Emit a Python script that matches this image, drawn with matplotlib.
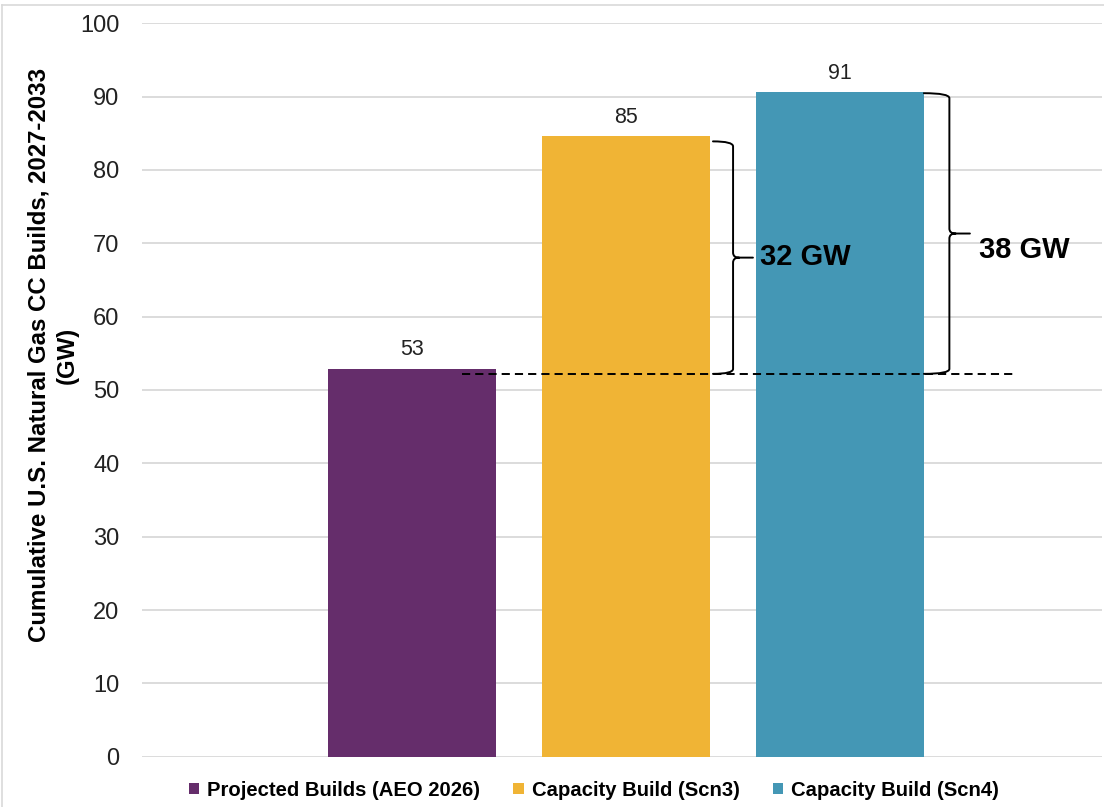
import matplotlib
matplotlib.use("Agg")
import matplotlib.pyplot as plt
from matplotlib import font_manager
from matplotlib.path import Path
from matplotlib.patches import PathPatch, Patch
from matplotlib.lines import Line2D

# ---- data ----
categories = ["Projected Builds (AEO 2026)", "Capacity Build (Scn3)", "Capacity Build (Scn4)"]
values = [52.9, 84.6, 90.6]
colors = ["#652D6B", "#F0B435", "#4497B5"]
baseline = 52.2          # dashed reference level
yticks = [0, 10, 20, 30, 40, 50, 60, 70, 80, 90, 100]
ylabel = "Cumulative U.S. Natural Gas CC Builds, 2027-2033\n(GW)"

names = {f.name for f in font_manager.fontManager.ttflist}
base_font = "Liberation Sans" if "Liberation Sans" in names else "DejaVu Sans"
narrow_font = "Liberation Sans Narrow" if "Liberation Sans Narrow" in names else base_font
plt.rcParams["font.family"] = [base_font, "DejaVu Sans"]

W, H = 1104, 807
fig = plt.figure(figsize=(W / 100, H / 100), dpi=100)
ax = fig.add_axes([141.7 / W, 1 - 756.7 / H, (1102 - 141.7) / W, (756.7 - 23.3) / H])

x = list(range(len(values)))
bw = 168 / 213.75
bars = ax.bar(x, values, width=bw, color=colors, zorder=3)

ax.set_ylim(0, 100)
ax.set_xlim(-1.2646, 3.228)
ax.set_yticks(yticks)
ax.set_xticks([])
ax.tick_params(axis="y", length=0, pad=16, labelsize=17, labelcolor="#222222")
for s in ax.spines.values():
    s.set_visible(False)
ax.grid(axis="y", color="#d9d9d9", linewidth=1.3, zorder=0)
ax.set_axisbelow(True)

# value labels
for xi, v in zip(x, values):
    ax.annotate(f"{v:.0f}", (xi, v), xytext=(0, 6), textcoords="offset points",
                ha="center", va="bottom", fontsize=15.5, color="#222222")

# dashed baseline
ax.plot([0.234, 2.81], [baseline, baseline], color="black", lw=1.4,
        dashes=(4.2, 2.6), zorder=4)

# braces
def brace(x0, x1, x2, yt, yb):
    ym = (yt + yb) / 2
    ry = 5 / 7.333
    dx = (x2 - x1) * 0.3
    verts = [(x0, yt), (x1, yt), (x1, yt - ry),
             (x1, ym + ry), (x1, ym), (x1 + dx, ym), (x2, ym),
             (x1 + dx, ym), (x1, ym), (x1, ym - ry),
             (x1, yb + ry), (x1, yb), (x0, yb)]
    codes = [Path.MOVETO, Path.CURVE3, Path.CURVE3,
             Path.LINETO, Path.CURVE3, Path.CURVE3, Path.LINETO,
             Path.MOVETO, Path.CURVE3, Path.CURVE3,
             Path.LINETO, Path.CURVE3, Path.CURVE3]
    ax.add_patch(PathPatch(Path(verts, codes), fill=False, lw=1.4,
                           edgecolor="black", zorder=5, capstyle="round"))
    return ym

brace(1.408, 1.502, 1.595, 83.9, baseline)
brace(2.395, 2.514, 2.61, 90.47, baseline)
ax.text(1.628, 68.2, f"{values[1] - baseline:.0f} GW", fontsize=21, fontweight="bold",
        ha="left", va="center", zorder=6)
ax.text(2.653, 69.1, f"{values[2] - baseline:.0f} GW", fontsize=21, fontweight="bold",
        ha="left", va="center", zorder=6)

# y label
fig.text(53 / W, 1 - 355 / H, ylabel, rotation=90, ha="center", va="center",
         multialignment="center", fontsize=17.3, fontweight="bold",
         family=[narrow_font, "DejaVu Sans"], linespacing=1.3)

# legend
handles = [Patch(facecolor=c, edgecolor="none") for c in colors]
fig.legend(handles, categories, loc="center", bbox_to_anchor=(594 / W, 1 - 790 / H),
           ncol=3, frameon=False, prop={"weight": "bold", "size": 14.6, "family": narrow_font},
           handlelength=0.5, handleheight=0.5, handletextpad=0.4, columnspacing=1.65)

# light frame around the figure
fig.add_artist(Line2D([2 / W, 1], [1 - 5 / H, 1 - 5 / H], color="#d9d9d9", lw=1.2))
fig.add_artist(Line2D([2 / W, 2 / W], [0, 1 - 5 / H], color="#d9d9d9", lw=1.2))

fig.savefig("out.png", dpi=100)
